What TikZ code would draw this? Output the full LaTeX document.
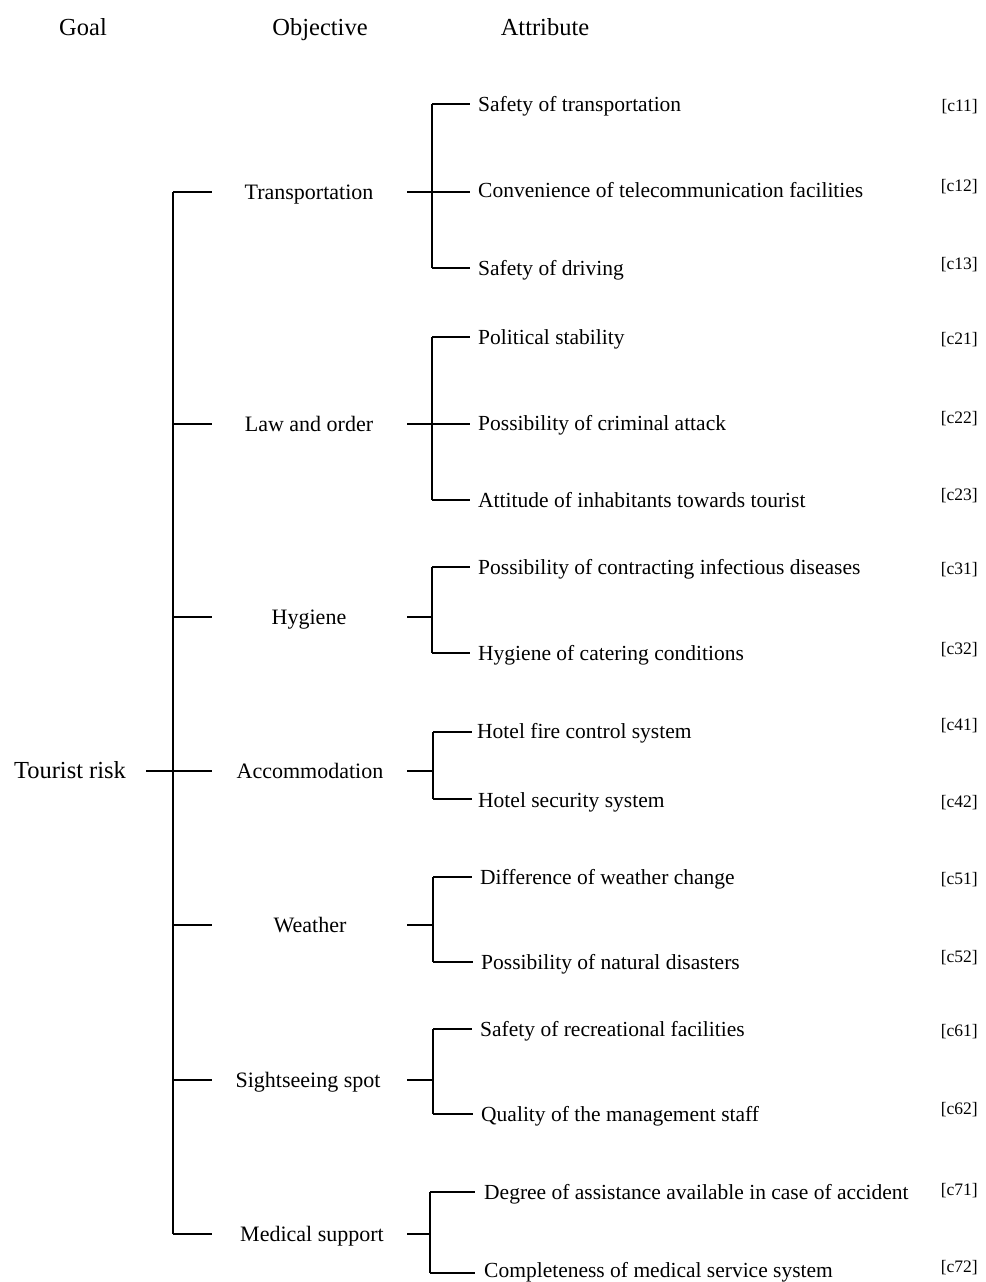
\documentclass[tikz,border=0pt]{standalone}
\usepackage{fontspec}
\setmainfont{Liberation Serif}
\newcommand{\attrfont}{\fontsize{21.5}{24}\selectfont}
\newcommand{\objfont}{\fontsize{22}{25}\selectfont}
\newcommand{\hdrfont}{\fontsize{24.5}{28}\selectfont}
\newcommand{\labfont}{\fontsize{17.5}{21}\selectfont}
\begin{document}
\begin{tikzpicture}[x=1pt,y=-1pt,
  txt/.style={inner sep=0pt,text height=0.7em,text depth=0.25em,yshift=-5pt},
  attr/.style={txt,anchor=west,font=\attrfont},
  obj/.style={txt,font=\objfont},
  hdr/.style={txt,font=\hdrfont},
  lab/.style={txt,anchor=east,font=\labfont},
  link/.style={line width=1.5pt}]
\useasboundingbox (0,0) rectangle (985,1282);
% headers
\node[hdr] (hgoal) at (83,28) {Goal};
\node[hdr] (hobj) at (320,28) {Objective};
\node[hdr] (hatt) at (545,28) {Attribute};
% goal
\node[hdr] (goal) at (70,771) {Tourist risk};
\coordinate (gs) at (146,771);
\coordinate (ge) at (212,771);
\draw[link] (gs) -- (ge);
% main spine
\coordinate (sp1) at (173,192);
\coordinate (sp7) at (173,1234);
\draw[link] (sp1) -- (sp7);
% objectives
\node[obj] (o1) at (309,192) {Transportation};
\node[obj] (o2) at (309,424) {Law and order};
\node[obj] (o3) at (309,617) {Hygiene};
\node[obj] (o4) at (310,771) {Accommodation};
\node[obj] (o5) at (310,925) {Weather};
\node[obj] (o6) at (308,1080) {Sightseeing spot};
\node[obj] (o7) at (312,1234) {Medical support};
\foreach \i/\y in {1/192,2/424,3/617,4/771,5/925,6/1080,7/1234}{
  \coordinate (l\i) at (173,\y);
  \coordinate (le\i) at (212,\y);
  \coordinate (r\i) at (407,\y);
  \draw[link] (l\i) -- (le\i);
}
% attributes
\node[attr] (a11) at (478,104) {Safety of transportation};
\node[attr] (a12) at (478,190) {Convenience of telecommunication facilities};
\node[attr] (a13) at (478,268) {Safety of driving};
\node[attr] (a21) at (478,337) {Political stability};
\node[attr] (a22) at (478,423) {Possibility of criminal attack};
\node[attr] (a23) at (478,500) {Attitude of inhabitants towards tourist};
\node[attr] (a31) at (478,567) {Possibility of contracting infectious diseases};
\node[attr] (a32) at (478,653) {Hygiene of catering conditions};
\node[attr] (a41) at (477,731) {Hotel fire control system};
\node[attr] (a42) at (478,800) {Hotel security system};
\node[attr] (a51) at (480,877) {Difference of weather change};
\node[attr] (a52) at (481,962) {Possibility of natural disasters};
\node[attr] (a61) at (480,1029) {Safety of recreational facilities};
\node[attr] (a62) at (481,1114) {Quality of the management staff};
\node[attr] (a71) at (484,1192) {Degree of assistance available in case of accident};
\node[attr] (a72) at (484,1270) {Completeness of medical service system};
% labels
\node[lab] (c11) at (978,104) {[c11]};
\node[lab] (c12) at (978,184) {[c12]};
\node[lab] (c13) at (978,262) {[c13]};
\node[lab] (c21) at (978,337) {[c21]};
\node[lab] (c22) at (978,416) {[c22]};
\node[lab] (c23) at (978,493) {[c23]};
\node[lab] (c31) at (978,567) {[c31]};
\node[lab] (c32) at (978,647) {[c32]};
\node[lab] (c41) at (978,723) {[c41]};
\node[lab] (c42) at (978,800) {[c42]};
\node[lab] (c51) at (978,877) {[c51]};
\node[lab] (c52) at (978,955) {[c52]};
\node[lab] (c61) at (978,1029) {[c61]};
\node[lab] (c62) at (978,1107) {[c62]};
\node[lab] (c71) at (978,1188) {[c71]};
\node[lab] (c72) at (978,1265) {[c72]};
% brackets
\foreach \g/\bx/\ya/\yb in {1/432/104/268,2/432/337/500,3/432/567/653,4/433/732/799,5/433/877/962,6/433/1029/1114,7/430/1192/1273}{
  \draw[link] (r\g) -- (\bx,0 |- r\g);
  \draw[link] (\bx,\ya) -- (\bx,\yb);
}
% attribute ticks
\foreach \a/\bx/\ex/\y in {11/432/470/104,12/432/470/192,13/432/470/268,
  21/432/470/337,22/432/470/424,23/432/470/500,
  31/432/470/567,32/432/470/653,
  41/433/472/732,42/433/472/799,
  51/433/472/877,52/433/473/962,
  61/433/472/1029,62/433/473/1114,
  71/430/475/1192,72/430/475/1273}{
  \draw[link] (\bx,\y) -- (\ex,\y);
}
\end{tikzpicture}
\end{document}
